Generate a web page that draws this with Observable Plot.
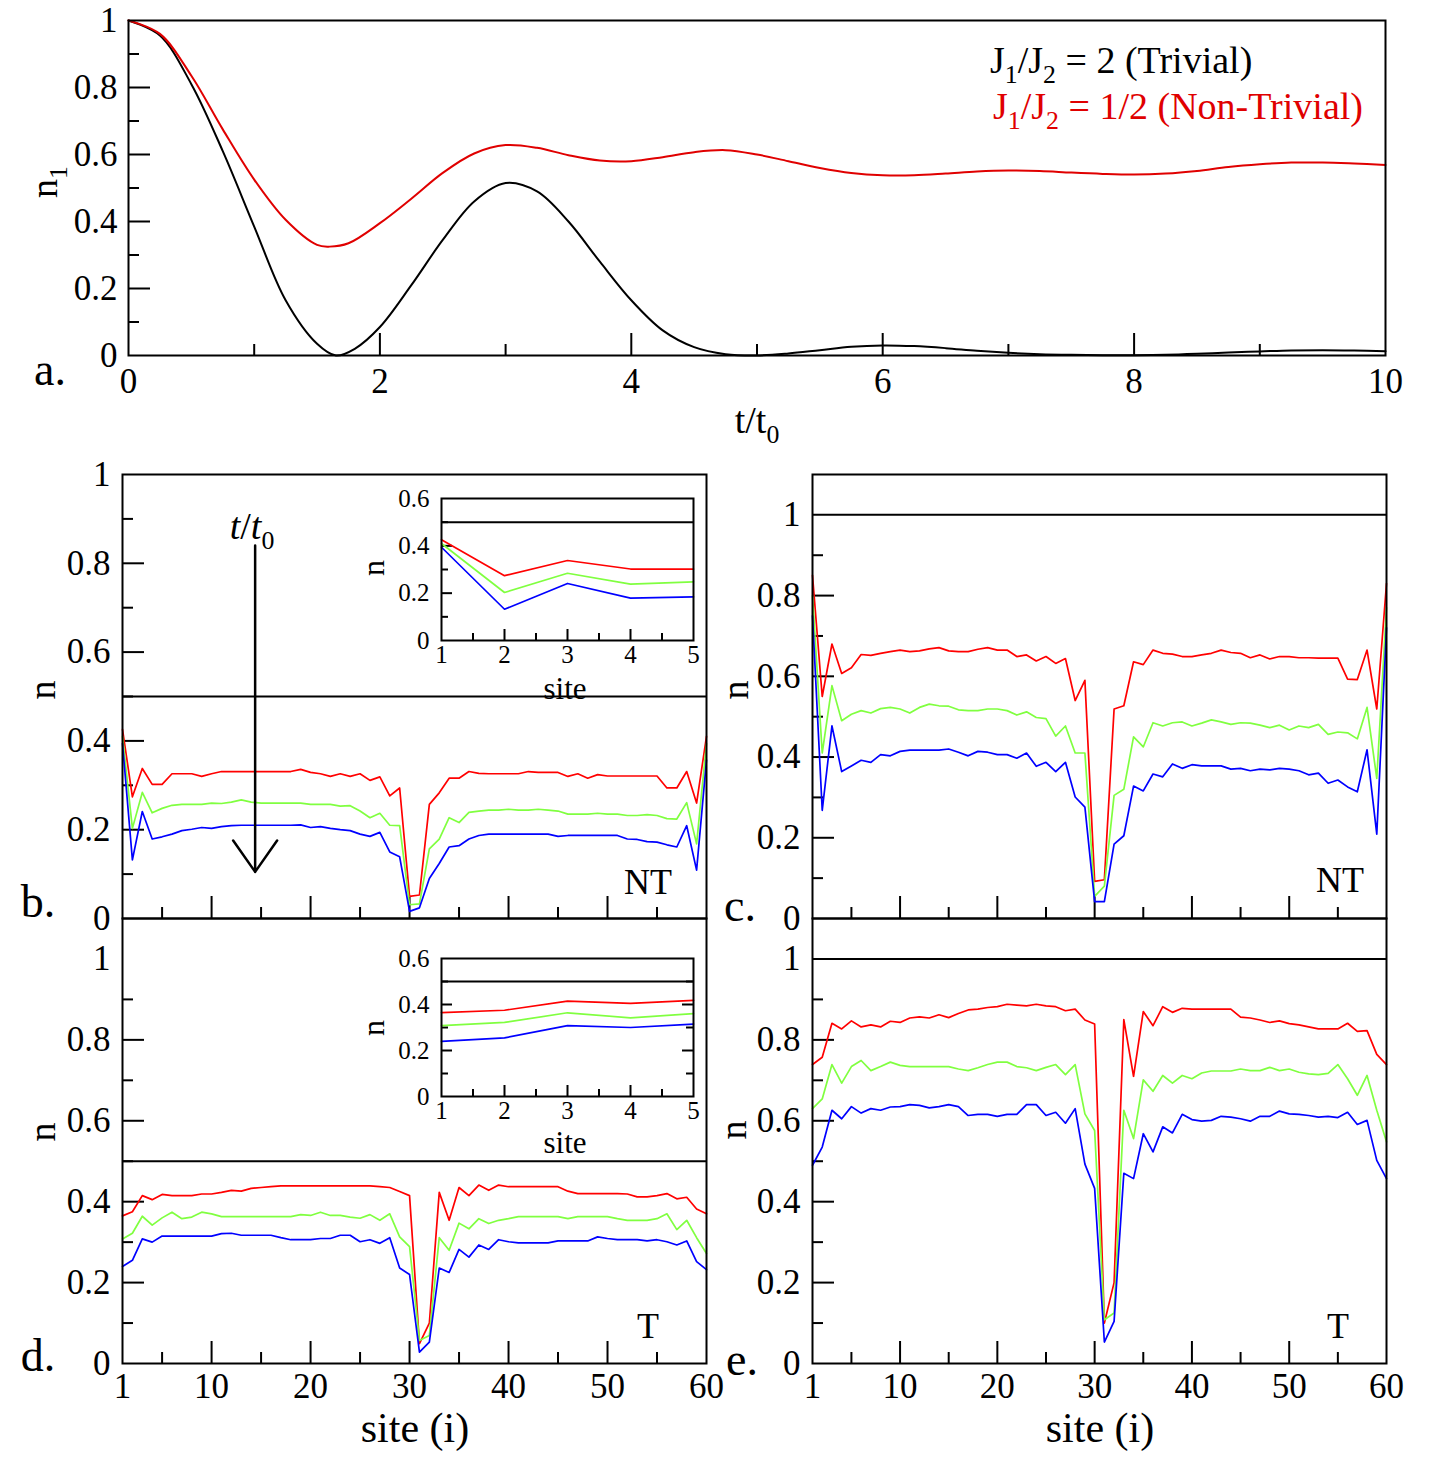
<!DOCTYPE html>
<html>
<head>
<meta charset="utf-8">
<script src="https://cdn.jsdelivr.net/npm/d3@7"></script>
<script src="https://cdn.jsdelivr.net/npm/@observablehq/plot@0.6"></script>
<style>
  body { margin: 0; background: #fff; }
  #fig { position: relative; width: 1433px; height: 1464px; overflow: hidden;
         font-family: "Liberation Serif", "Times New Roman", serif; color: #000; background: #fff; }
  #fig svg { position: absolute; left: 0; top: 0; }
  #fig svg text { font-family: "Liberation Serif", "Times New Roman", serif; }
  .lbl { position: absolute; white-space: nowrap; line-height: 1; }
  .lbl sub { font-size: 0.68em; vertical-align: -0.38em; line-height: 0; }
</style>
</head>
<body>
<div id="fig"></div>
<script>
// ---------- Panel a: occupation of the first site n1 versus time t/t0 ----------
const tTrivial = [0,0.25,0.5,0.75,1,1.25,1.5,1.65,1.8,2,2.25,2.5,2.75,3,3.25,3.5,3.75,4,4.25,4.5,4.75,5,5.25,5.5,5.75,6,6.25,6.5,6.75,7,7.25,7.5,7.75,8,8.25,8.5,8.75,9,9.25,9.5,9.75,10];
const nTrivial = [1,0.955,0.81,0.61,0.385,0.165,0.035,0,0.02,0.085,0.21,0.345,0.46,0.515,0.49,0.4,0.28,0.165,0.075,0.025,0.004,0,0.006,0.016,0.026,0.03,0.028,0.022,0.014,0.008,0.004,0.002,0.001,0.001,0.002,0.005,0.009,0.012,0.015,0.016,0.015,0.013];
const tNonTrivial = [0,0.25,0.5,0.75,1,1.25,1.5,1.6,1.75,2,2.25,2.5,2.75,3,3.25,3.5,3.75,4,4.25,4.5,4.75,5,5.25,5.5,5.75,6,6.25,6.5,6.75,7,7.25,7.5,7.75,8,8.25,8.5,8.75,9,9.25,9.5,9.75,10];
const nNonTrivial = [1,0.96,0.835,0.675,0.525,0.405,0.33,0.325,0.335,0.395,0.468,0.545,0.603,0.628,0.62,0.598,0.582,0.58,0.592,0.607,0.613,0.6,0.58,0.56,0.545,0.538,0.538,0.543,0.549,0.552,0.551,0.546,0.542,0.54,0.543,0.551,0.563,0.571,0.576,0.576,0.573,0.569];
const legendTrivial = "J<sub>1</sub>/J<sub>2</sub> = 2 (Trivial)";
const legendNonTrivial = "J<sub>1</sub>/J<sub>2</sub> = 1/2 (Non-Trivial)";

// ---------- Panels b–e: site occupation n(i) at three times ----------
const sites = d3.range(1, 61);
const seriesNames = ["early", "middle", "late"];

// b: non-trivial, half filling reference 0.5
const bRed = [0.426,0.274,0.338,0.302,0.302,0.326,0.326,0.326,0.32,0.326, 0.331,0.331,0.331,0.331,0.331,0.331,0.331,0.331,0.336,0.329, 0.326,0.32,0.326,0.32,0.326,0.311,0.319,0.276,0.294,0.05, 0.053,0.257,0.283,0.316,0.316,0.331,0.327,0.326,0.326,0.326, 0.326,0.331,0.329,0.329,0.329,0.32,0.326,0.316,0.324,0.321, 0.321,0.321,0.321,0.321,0.321,0.294,0.294,0.331,0.26,0.41];
const bGreen = [0.41,0.203,0.284,0.238,0.248,0.255,0.257,0.257,0.257,0.26, 0.259,0.262,0.267,0.262,0.26,0.26,0.26,0.26,0.26,0.257, 0.257,0.257,0.253,0.254,0.242,0.227,0.237,0.21,0.209,0.031, 0.033,0.157,0.179,0.227,0.216,0.239,0.242,0.244,0.244,0.246, 0.244,0.244,0.246,0.244,0.242,0.235,0.235,0.235,0.237,0.235, 0.235,0.232,0.232,0.234,0.232,0.225,0.224,0.261,0.168,0.394];
const bBlue = [0.394,0.132,0.241,0.179,0.184,0.19,0.198,0.201,0.205,0.203, 0.207,0.209,0.21,0.21,0.21,0.21,0.21,0.21,0.211,0.205, 0.207,0.203,0.2,0.198,0.19,0.185,0.194,0.15,0.139,0.016, 0.024,0.09,0.124,0.161,0.164,0.179,0.187,0.19,0.19,0.19, 0.19,0.19,0.19,0.19,0.185,0.187,0.187,0.187,0.187,0.187, 0.187,0.179,0.178,0.173,0.172,0.166,0.161,0.209,0.109,0.357];

// c: non-trivial, full filling reference 1
const cRed = [0.85,0.55,0.68,0.607,0.621,0.654,0.652,0.657,0.661,0.665, 0.661,0.663,0.668,0.671,0.663,0.661,0.661,0.667,0.671,0.665, 0.665,0.649,0.653,0.638,0.649,0.632,0.644,0.54,0.59,0.092, 0.096,0.519,0.527,0.636,0.629,0.665,0.657,0.655,0.649,0.649, 0.653,0.657,0.665,0.659,0.657,0.646,0.653,0.643,0.649,0.649, 0.646,0.646,0.645,0.645,0.645,0.593,0.592,0.665,0.519,0.83];
const cGreen = [0.8,0.41,0.577,0.49,0.506,0.515,0.509,0.52,0.523,0.519, 0.509,0.523,0.531,0.527,0.526,0.517,0.515,0.515,0.519,0.519, 0.515,0.504,0.512,0.498,0.495,0.452,0.477,0.41,0.41,0.055, 0.08,0.305,0.32,0.45,0.425,0.485,0.477,0.485,0.487,0.477, 0.484,0.492,0.487,0.481,0.485,0.484,0.479,0.473,0.479,0.467, 0.477,0.473,0.481,0.456,0.462,0.46,0.445,0.523,0.347,0.77];
const cBlue = [0.75,0.268,0.477,0.364,0.378,0.392,0.387,0.406,0.403,0.414, 0.417,0.417,0.417,0.417,0.42,0.412,0.403,0.414,0.412,0.406, 0.406,0.397,0.41,0.377,0.387,0.364,0.387,0.301,0.276,0.042, 0.042,0.184,0.205,0.328,0.316,0.358,0.351,0.383,0.372,0.381, 0.378,0.378,0.378,0.37,0.372,0.366,0.37,0.368,0.372,0.37, 0.366,0.356,0.36,0.335,0.343,0.326,0.314,0.418,0.209,0.72];

// d: trivial, half filling reference 0.5
const dRed = [0.365,0.375,0.415,0.405,0.418,0.415,0.415,0.415,0.419,0.419, 0.423,0.428,0.426,0.433,0.435,0.437,0.439,0.439,0.439,0.439, 0.439,0.439,0.439,0.439,0.439,0.439,0.437,0.435,0.425,0.415, 0.049,0.1,0.423,0.354,0.435,0.415,0.441,0.428,0.441,0.437, 0.437,0.437,0.437,0.437,0.437,0.426,0.42,0.42,0.42,0.42, 0.42,0.419,0.412,0.412,0.415,0.42,0.407,0.411,0.382,0.37];
const dGreen = [0.308,0.322,0.364,0.342,0.36,0.374,0.358,0.362,0.374,0.37, 0.363,0.363,0.363,0.363,0.363,0.363,0.363,0.363,0.368,0.366, 0.374,0.366,0.366,0.362,0.359,0.368,0.354,0.37,0.313,0.289, 0.057,0.069,0.311,0.28,0.347,0.333,0.358,0.346,0.354,0.358, 0.363,0.363,0.363,0.363,0.363,0.358,0.363,0.363,0.363,0.363, 0.358,0.354,0.354,0.354,0.358,0.37,0.331,0.354,0.311,0.272];
const dBlue = [0.24,0.255,0.308,0.3,0.315,0.315,0.315,0.315,0.315,0.315, 0.321,0.322,0.317,0.317,0.317,0.317,0.311,0.306,0.306,0.306, 0.309,0.309,0.317,0.317,0.301,0.306,0.297,0.311,0.236,0.22, 0.028,0.053,0.236,0.225,0.282,0.263,0.293,0.282,0.306,0.301, 0.298,0.298,0.298,0.298,0.303,0.303,0.303,0.303,0.313,0.309, 0.306,0.306,0.306,0.303,0.306,0.301,0.293,0.303,0.252,0.232];

// e: trivial, full filling reference 1
const eRed = [0.739,0.757,0.841,0.827,0.847,0.832,0.837,0.832,0.846,0.843, 0.854,0.857,0.854,0.862,0.855,0.865,0.874,0.876,0.88,0.882, 0.888,0.886,0.884,0.888,0.884,0.882,0.872,0.876,0.849,0.839, 0.1,0.2,0.85,0.71,0.87,0.835,0.882,0.868,0.878,0.876, 0.876,0.876,0.876,0.876,0.856,0.854,0.849,0.843,0.847,0.84, 0.837,0.832,0.827,0.827,0.827,0.841,0.821,0.823,0.764,0.739];
const eGreen = [0.63,0.654,0.739,0.693,0.734,0.749,0.724,0.734,0.745,0.737, 0.734,0.734,0.734,0.734,0.734,0.728,0.724,0.731,0.739,0.745, 0.745,0.734,0.731,0.724,0.732,0.739,0.714,0.739,0.617,0.576, 0.108,0.125,0.626,0.556,0.701,0.673,0.712,0.693,0.712,0.704, 0.718,0.723,0.723,0.723,0.728,0.724,0.724,0.732,0.724,0.728, 0.72,0.716,0.714,0.717,0.739,0.704,0.663,0.712,0.626,0.548];
const eBlue = [0.49,0.535,0.626,0.605,0.635,0.619,0.63,0.626,0.634,0.635, 0.64,0.638,0.632,0.635,0.64,0.635,0.613,0.616,0.616,0.611, 0.616,0.616,0.64,0.64,0.613,0.621,0.594,0.63,0.493,0.433, 0.053,0.104,0.47,0.457,0.568,0.523,0.585,0.57,0.616,0.603, 0.599,0.601,0.611,0.609,0.605,0.599,0.611,0.611,0.624,0.617, 0.616,0.613,0.609,0.611,0.608,0.621,0.591,0.601,0.502,0.457];

// Reference fillings and tick values
const halfFilling = 0.5, fullFilling = 1;
const insetSites = [1, 2, 3, 4, 5];
const timeArrow = {site: 14.4, from: 0.84, to: 0.105};
const ticksA = {xLabels: [0,2,4,6,8,10], xMajor: [2,4,6,8], xMinor: [1,3,5,7,9], yLabels: [0,0.2,0.4,0.6,0.8,1], yMajor: [0.2,0.4,0.6,0.8], yMinor: [0.1,0.3,0.5,0.7,0.9]};
const siteLabels = [1,10,20,30,40,50,60], siteMajor = [10,20,30,40,50], siteMinor = [5,15,25,35,45,55];
const nLabels = [0,0.2,0.4,0.6,0.8,1], nMajor = [0.2,0.4,0.6,0.8], nMinor = [0.1,0.3,0.5,0.7,0.9];
const insetX = [1,2,3,4,5], insetXMinor = [1.5,2.5,3.5,4.5], insetXMajor = [2,3,4];
const insetY = [0,0.2,0.4,0.6], insetYMajor = [0.2,0.4], insetYMinor = [0.1,0.3,0.5];

const colors = {early: "#ff0000", middle: "#80ff40", late: "#0000ff"};
const trivialColor = "#000000", nonTrivialColor = "#e00000";

// ---------- helpers ----------
const W = 1433, H = 1464;
const SERIF = "Liberation Serif";
const fig = document.getElementById("fig");
const fmt = d => String(d);

function box(x0, x1, y0, y1) {
  return {marginLeft: x0, marginRight: W - x1, marginTop: y0, marginBottom: H - y1, w: x1 - x0, h: y1 - y0};
}
function axesMarks(b, o) {
  const m = [];
  const sw = o.tickWidth ?? 2;
  if (o.yMajor) m.push(Plot.tickY(o.yMajor, {y: d => d, insetRight: b.w - o.majorLen, stroke: "black", strokeWidth: sw}));
  if (o.yMinor) m.push(Plot.tickY(o.yMinor, {y: d => d, insetRight: b.w - o.minorLen, stroke: "black", strokeWidth: sw}));
  if (o.mirrorY) {
    m.push(Plot.tickY(o.yMajor, {y: d => d, insetLeft: b.w - o.majorLen, stroke: "black", strokeWidth: sw}));
    m.push(Plot.tickY(o.yMinor, {y: d => d, insetLeft: b.w - o.minorLen, stroke: "black", strokeWidth: sw}));
  }
  if (o.xMajor) m.push(Plot.tickX(o.xMajor, {x: d => d, insetTop: b.h - o.majorLen, stroke: "black", strokeWidth: sw}));
  if (o.xMinor) m.push(Plot.tickX(o.xMinor, {x: d => d, insetTop: b.h - o.minorLen, stroke: "black", strokeWidth: sw}));
  const text = {fontFamily: SERIF, fontSize: o.fontSize, label: null, tickFormat: fmt, tickSize: 0};
  m.push(Plot.axisY(o.yLabels || [], {...text, tickPadding: o.padY}));
  m.push(Plot.axisX(o.xLabels || [], {...text, tickPadding: o.padX ?? 8}));
  return m;
}
function panel(b, xDomain, yDomain, marks) {
  const svg = Plot.plot({
    width: W, height: H,
    marginLeft: b.marginLeft, marginRight: b.marginRight, marginTop: b.marginTop, marginBottom: b.marginBottom,
    x: {domain: xDomain}, y: {domain: yDomain},
    style: {background: "none", overflow: "visible", color: "black"},
    marks
  });
  fig.appendChild(svg);
}
function siteLines(red, green, blue, filter) {
  const rows = [];
  [[red, "early"], [green, "middle"], [blue, "late"]].forEach(([vals, name]) => {
    sites.forEach((s, i) => { if (!filter || filter.includes(s)) rows.push({site: s, n: vals[i], series: name}); });
  });
  return seriesNames.map(name => Plot.line(rows.filter(r => r.series === name), {x: "site", y: "n", stroke: colors[name], strokeWidth: 1.7}));
}
function label(html, x, y, size, opts = {}) {
  const el = document.createElement("div");
  el.className = "lbl";
  el.innerHTML = html;
  el.style.left = x + "px";
  el.style.top = y + "px";
  el.style.fontSize = size + "px";
  const shift = opts.anchor === "start" ? "translate(0,-50%)" : "translate(-50%,-50%)";
  el.style.transform = shift + (opts.rotate ? ` rotate(${opts.rotate}deg)` : "");
  if (opts.color) el.style.color = opts.color;
  fig.appendChild(el);
}

// ---------- panel a ----------
const bA = box(128, 1385, 20, 355);
panel(bA, [0, 10], [0, 1], [
  ...axesMarks(bA, {xLabels: ticksA.xLabels, xMajor: ticksA.xMajor, xMinor: ticksA.xMinor,
                    yLabels: ticksA.yLabels, yMajor: ticksA.yMajor, yMinor: ticksA.yMinor,
                    majorLen: 22, minorLen: 11, padY: 11, padX: 13, fontSize: 35}),
  Plot.line(tTrivial, {x: d => d, y: (d, i) => nTrivial[i], stroke: trivialColor, strokeWidth: 2, curve: "catmull-rom"}),
  Plot.line(tNonTrivial, {x: d => d, y: (d, i) => nNonTrivial[i], stroke: nonTrivialColor, strokeWidth: 2, curve: "catmull-rom"}),
  Plot.frame({stroke: "black", strokeWidth: 2})
]);
label("a.", 50, 370, 46);
label("n<sub>1</sub>", 44, 182, 38, {rotate: -90});
label("t/t<sub>0</sub>", 757, 420, 38);
label(legendTrivial, 990, 60, 38, {anchor: "start"});
label(legendNonTrivial, 993, 106, 38, {anchor: "start", color: nonTrivialColor});

// ---------- panel b ----------
const bB = box(122, 706, 474, 918);
panel(bB, [1, 60], [0, 1], [
  ...axesMarks(bB, {xMajor: siteMajor, xMinor: siteMinor, yLabels: nLabels, yMajor: nMajor, yMinor: nMinor,
                    majorLen: 22, minorLen: 11, padY: 12, fontSize: 35}),
  Plot.ruleY([halfFilling], {stroke: "black", strokeWidth: 2}),
  ...siteLines(bRed, bGreen, bBlue),
  Plot.arrow([timeArrow], {x1: "site", y1: "from", x2: "site", y2: "to", stroke: "black", strokeWidth: 2.5, headAngle: 70, headLength: 23}),
  Plot.frame({stroke: "black", strokeWidth: 2})
]);
label("b.", 38, 902, 46);
label("n", 42, 690, 38, {rotate: -90});
label("NT", 648, 882, 36);
label("<i>t</i>/<i>t</i><sub>0</sub>", 252, 526, 38);

// inset of b
const bBi = box(441, 693, 498, 640);
panel(bBi, [1, 5], [0, 0.6], [
  ...axesMarks(bBi, {xLabels: insetX, xMajor: insetXMajor, xMinor: insetXMinor, yLabels: insetY, yMajor: insetYMajor, yMinor: insetYMinor,
                     majorLen: 11, minorLen: 7, padY: 12, padX: 5, tickWidth: 2, fontSize: 25}),
  Plot.ruleY([halfFilling], {stroke: "black", strokeWidth: 2}),
  ...siteLines(bRed, bGreen, bBlue, insetSites),
  Plot.frame({stroke: "black", strokeWidth: 2})
]);
label("n", 373, 568, 32, {rotate: -90});
label("site", 565, 688, 31);

// ---------- panel c ----------
const bC = box(812, 1386, 474, 918);
panel(bC, [1, 60], [0, 1.1], [
  ...axesMarks(bC, {xMajor: siteMajor, xMinor: siteMinor, yLabels: nLabels, yMajor: nMajor, yMinor: nMinor,
                    majorLen: 22, minorLen: 11, padY: 12, fontSize: 35}),
  Plot.ruleY([fullFilling], {stroke: "black", strokeWidth: 2}),
  ...siteLines(cRed, cGreen, cBlue),
  Plot.frame({stroke: "black", strokeWidth: 2})
]);
label("c.", 740, 906, 46);
label("n", 735, 690, 38, {rotate: -90});
label("NT", 1340, 880, 36);

// ---------- panel d ----------
const bD = box(122, 706, 918, 1363);
panel(bD, [1, 60], [0, 1.1], [
  ...axesMarks(bD, {xLabels: siteLabels, xMajor: siteMajor, xMinor: siteMinor, yLabels: nLabels, yMajor: nMajor, yMinor: nMinor,
                    majorLen: 22, minorLen: 11, padY: 12, padX: 10, fontSize: 35}),
  Plot.ruleY([halfFilling], {stroke: "black", strokeWidth: 2}),
  ...siteLines(dRed, dGreen, dBlue),
  Plot.frame({stroke: "black", strokeWidth: 2})
]);
label("d.", 38, 1356, 46);
label("n", 42, 1132, 38, {rotate: -90});
label("T", 648, 1326, 36);
label("site (i)", 415, 1428, 42);

// inset of d
const bDi = box(441, 693, 958, 1096);
panel(bDi, [1, 5], [0, 0.6], [
  ...axesMarks(bDi, {xLabels: insetX, xMajor: insetXMajor, xMinor: insetXMinor, yLabels: insetY, yMajor: insetYMajor, yMinor: insetYMinor,
                     majorLen: 11, minorLen: 7, padY: 12, padX: 5, tickWidth: 2, mirrorY: true, fontSize: 25}),
  Plot.ruleY([halfFilling], {stroke: "black", strokeWidth: 2}),
  ...siteLines(dRed, dGreen, dBlue, insetSites),
  Plot.frame({stroke: "black", strokeWidth: 2})
]);
label("n", 373, 1028, 32, {rotate: -90});
label("site", 565, 1142, 31);

// ---------- panel e ----------
const bE = box(812, 1386, 918, 1363);
panel(bE, [1, 60], [0, 1.1], [
  ...axesMarks(bE, {xLabels: siteLabels, xMajor: siteMajor, xMinor: siteMinor, yLabels: nLabels, yMajor: nMajor, yMinor: nMinor,
                    majorLen: 22, minorLen: 11, padY: 12, padX: 10, fontSize: 35}),
  Plot.ruleY([fullFilling], {stroke: "black", strokeWidth: 2}),
  ...siteLines(eRed, eGreen, eBlue),
  Plot.frame({stroke: "black", strokeWidth: 2})
]);
label("e.", 742, 1360, 46);
label("n", 733, 1130, 38, {rotate: -90});
label("T", 1338, 1326, 36);
label("site (i)", 1100, 1428, 42);
</script>
</body>
</html>
